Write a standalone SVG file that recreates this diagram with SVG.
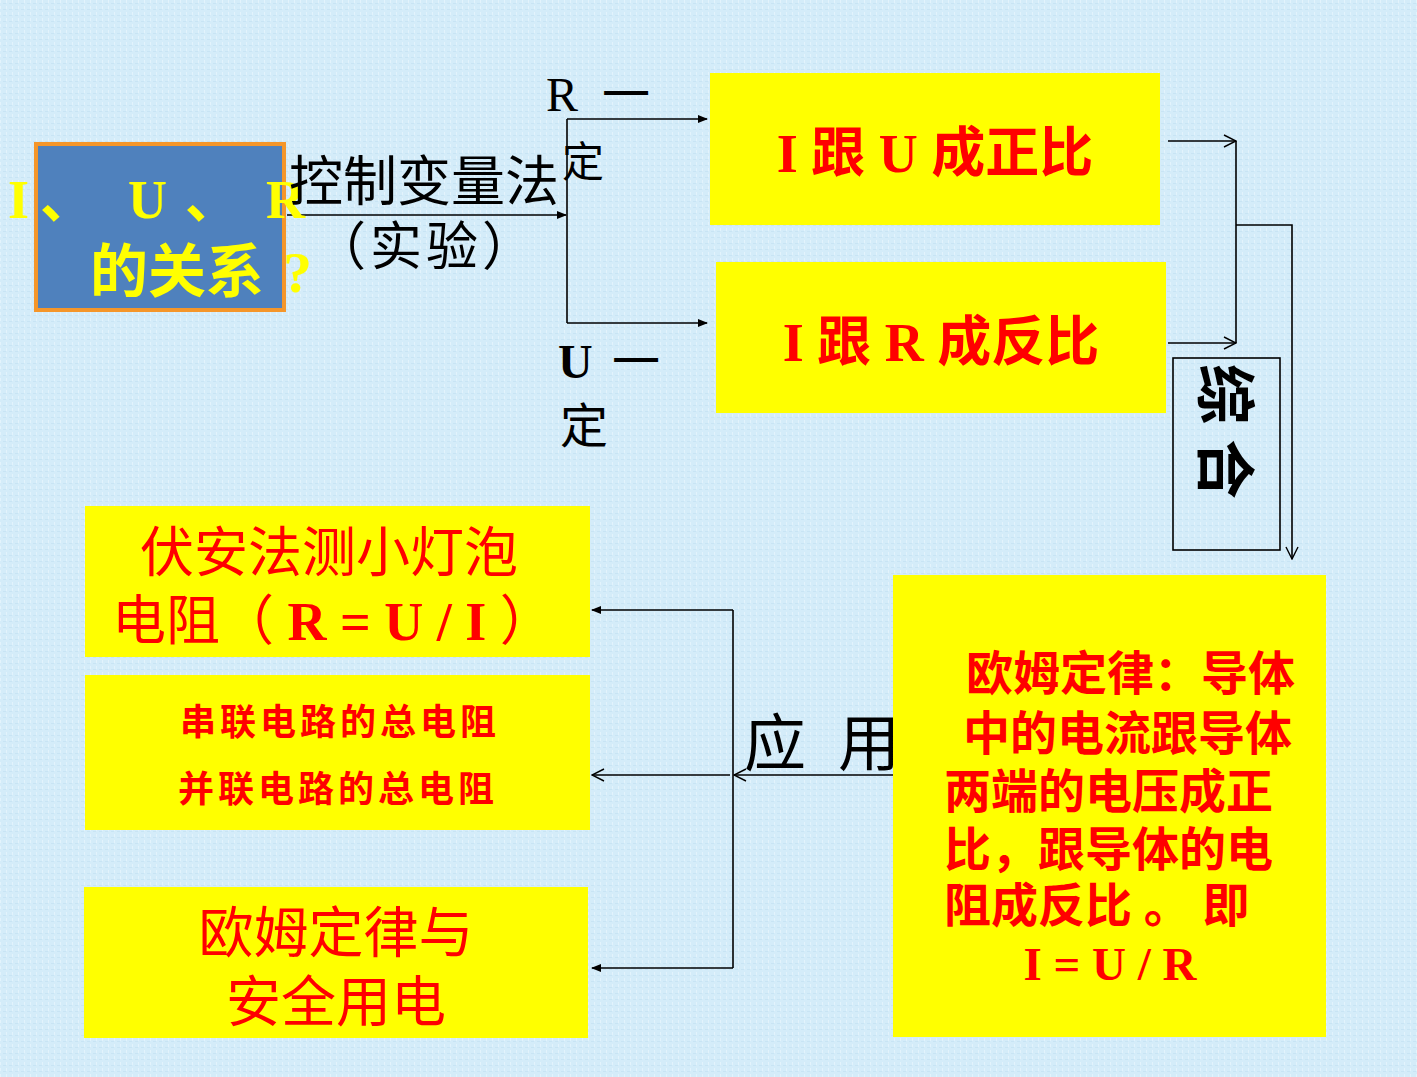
<svg xmlns="http://www.w3.org/2000/svg" width="1417" height="1077" viewBox="0 0 1417 1077">
<defs>
<style>
.cjk{font-family:"Liberation Serif","Noto Sans CJK SC",serif;}
.red{fill:#ff0000;font-weight:bold;}
.blk{fill:#000;}
.ylw{fill:#ffff00;font-weight:bold;}
.box{fill:#ffff00;}
.ln{fill:none;stroke:#000;stroke-width:1.6;}
.nb{font-weight:normal;}
</style>
<pattern id="tex" width="6" height="6" patternUnits="userSpaceOnUse">
<rect width="6" height="6" fill="#d4ecf9"/>
<rect x="0" y="0" width="1" height="3" fill="#e3f3fc"/>
<rect x="3" y="3" width="3" height="1" fill="#c8e4f4"/>
</pattern>
<marker id="fa" markerWidth="10" markerHeight="8" refX="9" refY="4" orient="auto" markerUnits="userSpaceOnUse">
<path d="M0,0 L10,4 L0,8 Z" fill="#000"/>
</marker>
<marker id="oa" markerWidth="14" markerHeight="14" refX="13" refY="7" orient="auto" markerUnits="userSpaceOnUse">
<path d="M1,1 L13,7 L1,13" fill="none" stroke="#000" stroke-width="1.4"/>
</marker>
</defs>
<rect width="1417" height="1077" fill="url(#tex)"/>

<g id="connectors">
<line class="ln" x1="287" y1="215" x2="566" y2="215" marker-end="url(#fa)"/>
<line class="ln" x1="567" y1="119" x2="567" y2="323"/>
<line class="ln" x1="567" y1="119" x2="707" y2="119" marker-end="url(#fa)"/>
<line class="ln" x1="567" y1="323" x2="707" y2="323" marker-end="url(#fa)"/>
<line class="ln" x1="1168" y1="141" x2="1236" y2="141" marker-end="url(#oa)"/>
<line class="ln" x1="1168" y1="343" x2="1236" y2="343" marker-end="url(#oa)"/>
<line class="ln" x1="1236" y1="141" x2="1236" y2="343"/>
<polyline class="ln" points="1236,225 1292,225 1292,559" marker-end="url(#oa)"/>
<line class="ln" x1="893" y1="775" x2="734" y2="775" marker-end="url(#oa)"/>
<line class="ln" x1="733" y1="610" x2="733" y2="968"/>
<line class="ln" x1="733" y1="610" x2="592" y2="610" marker-end="url(#fa)"/>
<line class="ln" x1="733" y1="968" x2="592" y2="968" marker-end="url(#fa)"/>
<line class="ln" x1="730" y1="775" x2="592" y2="775" marker-end="url(#oa)"/>
</g>

<g id="start">
<rect x="36" y="144" width="248" height="166" fill="#4f81bd" stroke="#f5962a" stroke-width="4"/>
<text class="cjk ylw" font-size="54" y="218"><tspan x="8">I</tspan><tspan x="40">、</tspan><tspan x="128">U</tspan><tspan x="185">、</tspan><tspan x="266">R</tspan></text>
<text class="cjk ylw" font-size="58" x="90" y="292">的关系<tspan x="283" font-size="58">?</tspan></text>
</g>

<g id="method">
<text class="cjk blk" font-size="54" x="289" y="201">控制变量法</text>
<text class="cjk blk" font-size="52" x="314" y="265" letter-spacing="4">（实验）</text>
</g>

<g id="r-const">
<text class="cjk blk" font-size="48" x="546" y="111" xml:space="preserve">R  一</text>
<text class="cjk blk" font-size="42" x="562" y="177">定</text>
</g>

<g id="u-const">
<text class="cjk blk" font-size="48" x="558" y="378"><tspan font-weight="bold">U</tspan><tspan x="612">一</tspan></text>
<text class="cjk blk" font-size="48" x="560" y="443">定</text>
</g>

<g id="prop">
<rect class="box" x="710" y="73" width="450" height="152"/>
<text class="cjk red" font-size="54" x="935" y="172" text-anchor="middle">I 跟 U 成正比</text>
</g>

<g id="inverse">
<rect class="box" x="716" y="262" width="450" height="151"/>
<text class="cjk red" font-size="54" x="941" y="361" text-anchor="middle">I 跟 R 成反比</text>
</g>

<g id="combine">
<rect x="1173" y="358" width="107" height="192" fill="none" stroke="#000" stroke-width="1.6"/>
<text class="cjk blk" font-size="60" font-weight="bold" transform="translate(1203,364) rotate(90)" x="0" y="0" xml:space="preserve">综 合</text>
</g>

<g id="ohm">
<rect class="box" x="893" y="575" width="433" height="462"/>
<text class="cjk red" font-size="47">
<tspan x="966" y="690">欧姆定律：导体</tspan>
<tspan x="963" y="750">中的电流跟导体</tspan>
<tspan x="944" y="808">两端的电压成正</tspan>
<tspan x="944" y="866">比，跟导体的电</tspan>
<tspan x="944" y="922">阻成反比 。 即</tspan>
<tspan x="1110" y="980" text-anchor="middle">I = U / R</tspan>
</text>
</g>

<g id="apply">
<text class="cjk blk" font-size="62" x="744" y="766"><tspan>应</tspan><tspan x="838">用</tspan></text>
</g>

<g id="app1">
<rect class="box" x="85" y="506" width="505" height="151"/>
<text class="cjk red nb" font-size="54" x="140" y="572">伏安法测小灯泡</text>
<text class="cjk red" font-size="54" x="112" y="640"><tspan class="nb">电阻（ </tspan>R = U / I<tspan class="nb"> ）</tspan></text>
</g>

<g id="app2">
<rect class="box" x="85" y="675" width="505" height="155"/>
<text class="cjk red" font-size="36" x="180" y="735" letter-spacing="4">串联电路的总电阻</text>
<text class="cjk red" font-size="36" x="178" y="802" letter-spacing="4">并联电路的总电阻</text>
</g>

<g id="app3">
<rect class="box" x="84" y="887" width="504" height="151"/>
<text class="cjk red nb" font-size="55" x="336" y="952" text-anchor="middle">欧姆定律与</text>
<text class="cjk red nb" font-size="55" x="336" y="1021" text-anchor="middle">安全用电</text>
</g>
</svg>
